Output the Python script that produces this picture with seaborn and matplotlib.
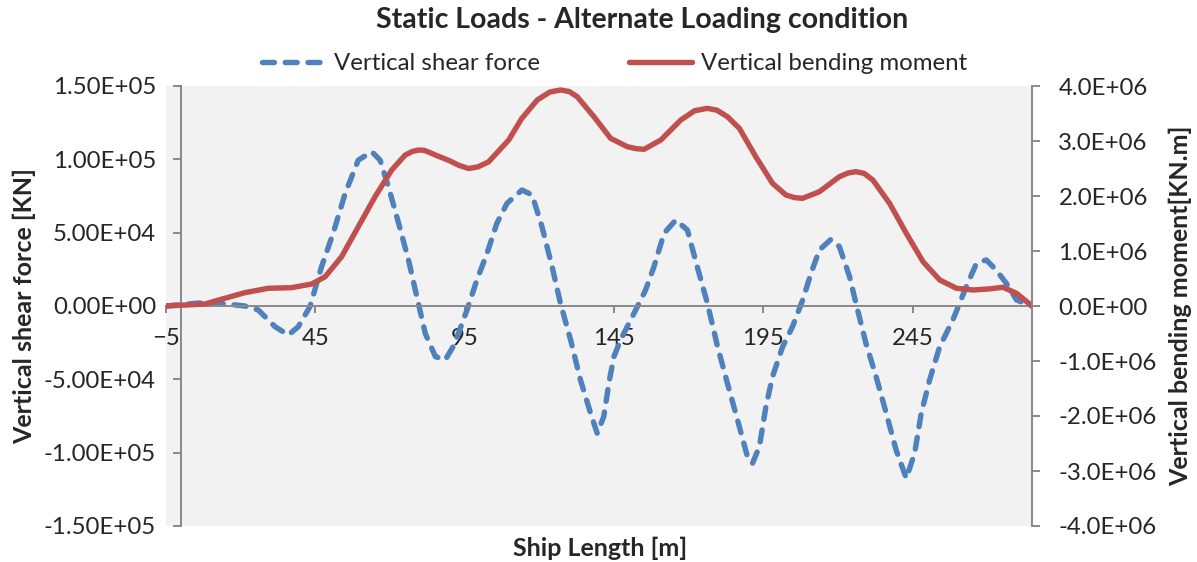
import numpy as np
import pandas as pd
import matplotlib
matplotlib.use("Agg")
import matplotlib.pyplot as plt
from matplotlib.ticker import FuncFormatter
import seaborn as sns

# Valores (posição ao longo do navio em m)
shear_x = [-5, 5.7, 14.7, 21.4, 25.9, 31.5, 36, 39.3, 43.2, 47.1, 51, 55, 59.4, 63.9,
           66.7, 69.5, 72.9, 76.2, 79, 81.8, 85.2, 88.5, 91.5, 95.8, 99.1, 102.5, 105.8,
           109.2, 114.2, 117.6, 120.9, 124.3, 127.1, 130.5, 133.8, 137.2, 139.4, 141.6,
           143.3, 145, 147.2, 150.6, 153.4, 155.6, 158.4, 161.8, 165.7, 169.6, 172.9,
           176.3, 179.7, 183, 186.4, 189.7, 191.4, 193.7, 195.9, 198.1, 201.5, 204.8,
           208.2, 211, 213.8, 217.7, 220.5, 223.9, 226.6, 229.4, 232.8, 236.2, 239.5,
           242.9, 245.7, 247.9, 250.7, 254.1, 258.5, 263, 266.4, 269.7, 273, 276.4,
           279.8, 285]
shear_kn = [0, 2000, 1500, 0, -2700, -14100, -19800, -14100, -500, 26800, 49800, 76800,
            99500, 105200, 99500, 81300, 56400, 31400, 6300, -18600, -34500, -36800,
            -26500, -2700, 17700, 35900, 56400, 70000, 79100, 75700, 54100, 26800, 1800,
            -23200, -50500, -73200, -86800, -75400, -52700, -34500, -23200, -9500, 1800,
            10900, 26800, 49600, 58600, 51800, 26800, 1800, -27700, -52700, -77700,
            -102700, -107300, -95900, -68600, -48200, -27700, -14100, 4100, 22300, 38200,
            45500, 40500, 20000, -2700, -25500, -48200, -73200, -98200, -117500, -100400,
            -73200, -50500, -27700, -9500, 13200, 29100, 31400, 24500, 15500, 4100, 0]

moment_x = [-5, 8, 14.7, 21.4, 29.2, 37, 43.8, 48.3, 53.8, 59.4, 65, 70.6, 75.1, 77.5,
            79.6, 81.5, 82.9, 85.2, 89.6, 93, 96.3, 99.5, 103, 109.8, 114, 119.3, 123.5,
            127.1, 130, 132.7, 138.3, 143.9, 149.5, 152.5, 155.1, 160.7, 167.4, 172,
            176.3, 179.5, 183, 187, 192.5, 198.1, 202.6, 205.5, 208.2, 213.8, 220.5,
            223.5, 226.1, 228.8, 231.7, 237.3, 242.9, 248.5, 254.1, 259.7, 265.3, 270.5,
            275.3, 279.8, 285]
moment_knm = [0, 0.036e6, 0.14e6, 0.242e6, 0.322e6, 0.333e6, 0.40e6, 0.533e6, 0.896e6,
              1.442e6, 1.987e6, 2.473e6, 2.745e6, 2.81e6, 2.836e6, 2.83e6, 2.80e6,
              2.745e6, 2.65e6, 2.56e6, 2.50e6, 2.53e6, 2.62e6, 3.02e6, 3.40e6, 3.745e6,
              3.89e6, 3.927e6, 3.90e6, 3.805e6, 3.442e6, 3.048e6, 2.896e6, 2.86e6,
              2.849e6, 3.018e6, 3.382e6, 3.55e6, 3.594e6, 3.56e6, 3.442e6, 3.231e6,
              2.715e6, 2.230e6, 2.018e6, 1.97e6, 1.958e6, 2.078e6, 2.351e6, 2.42e6,
              2.442e6, 2.41e6, 2.291e6, 1.867e6, 1.322e6, 0.806e6, 0.473e6, 0.322e6,
              0.291e6, 0.31e6, 0.340e6, 0.231e6, 0]

x_ticks = [-5, 45, 95, 145, 195, 245]
shear_ticks = [-1.5e5, -1.0e5, -5.0e4, 0, 5.0e4, 1.0e5, 1.5e5]
moment_ticks = [-4e6, -3e6, -2e6, -1e6, 0, 1e6, 2e6, 3e6, 4e6]

titulo = 'Static Loads - Alternate Loading condition'
nome_shear = 'Vertical shear force'
nome_moment = 'Vertical bending moment'

AZUL = '#4F81BD'
VERMELHO = '#C0504D'
CINZA = '#898989'
FS = 17.3

sns.set_style("white")
plt.rcParams['font.family'] = ['Lato', 'DejaVu Sans']

df_shear = pd.DataFrame({'x': shear_x, 'v': shear_kn})
df_moment = pd.DataFrame({'x': moment_x, 'm': moment_knm})

fig = plt.figure(figsize=(11.97, 5.62), dpi=100)
ax = fig.add_axes([166 / 1197, 36 / 562, 866 / 1197, 440 / 562])
ax.set_facecolor('#F2F2F2')

sns.lineplot(data=df_shear, x='x', y='v', ax=ax, color=AZUL, linewidth=3.9,
             estimator=None, sort=False)
linha_shear = ax.lines[-1]
linha_shear.set_dashes([2.2, 2.0])
linha_shear.set_dash_capstyle('round')

ax2 = ax.twinx()
sns.lineplot(data=df_moment, x='x', y='m', ax=ax2, color=VERMELHO, linewidth=3.9,
             estimator=None, sort=False)
linha_moment = ax2.lines[-1]
linha_moment.set_solid_capstyle('round')
linha_moment.set_solid_joinstyle('round')

ax.set_xlim(-5, 285)
ax.set_ylim(-1.5e5, 1.5e5)
ax2.set_ylim(-4e6, 4e6)
ax.set_xticks(x_ticks)
ax.set_yticks(shear_ticks)
ax2.set_yticks(moment_ticks)
ax.yaxis.set_major_formatter(FuncFormatter(lambda v, p: f"{v:.2E}"))
ax2.yaxis.set_major_formatter(FuncFormatter(lambda v, p: f"{v:.1E}"))
ax.set_xlabel('')
ax.set_ylabel('')
ax2.set_ylabel('')

# eixos cruzando no zero, como no Excel
ax.spines['left'].set_position(('data', 0))
ax.spines['bottom'].set_position(('data', 0))
for s in ['top', 'right']:
    ax.spines[s].set_visible(False)
for s in ['top', 'left', 'bottom']:
    ax2.spines[s].set_visible(False)
for s in [ax.spines['left'], ax.spines['bottom'], ax2.spines['right']]:
    s.set_color(CINZA)
    s.set_linewidth(1.4)

ax.tick_params(axis='y', left=True, direction='out', length=6, width=1.4,
               color=CINZA, pad=12, labelsize=FS)
ax.tick_params(axis='x', bottom=True, direction='out', length=5, width=1.4,
               color=CINZA, pad=11, labelsize=FS)
ax2.tick_params(axis='y', right=True, direction='out', length=6, width=1.4,
                color=CINZA, pad=13, labelsize=FS)
ax.grid(False)
ax2.grid(False)

fig.text(642 / 1197, 1 - 20 / 562, titulo, ha='center', va='center',
         fontsize=20.5, fontweight='bold')
fig.text(24 / 1197, 1 - 306 / 562, 'Vertical shear force [KN]', rotation=90,
         ha='center', va='center', fontsize=18, fontweight='bold')
fig.text(1180 / 1197, 1 - 306 / 562, 'Vertical bending moment[KN.m]', rotation=90,
         ha='center', va='center', fontsize=18, fontweight='bold')
fig.text(600 / 1197, 1 - 548 / 562, 'Ship Length [m]', ha='center', va='center',
         fontsize=18, fontweight='bold')

if ax.get_legend() is not None:
    ax.get_legend().remove()
fig.legend([linha_shear, linha_moment], [nome_shear, nome_moment], loc='center',
           bbox_to_anchor=(615 / 1197, 1 - 64 / 562), ncol=2, frameon=False,
           fontsize=FS, handlelength=2.6, handletextpad=0.4, columnspacing=3.7)

fig.savefig('out.png', dpi=100)
